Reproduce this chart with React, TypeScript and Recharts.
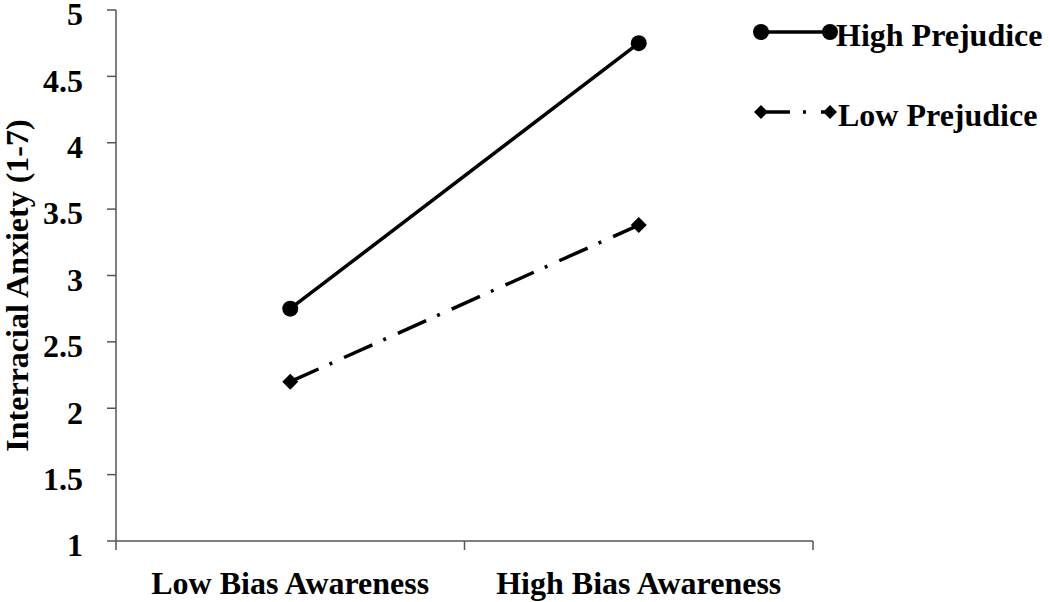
import React from "react"
import { LineChart, Line, XAxis, YAxis } from "recharts"

const categories = ["Low Bias Awareness", "High Bias Awareness"]
const highPrejudice = [2.75, 4.75]
const lowPrejudice = [2.2, 3.38]
const yTicks = [1, 1.5, 2, 2.5, 3, 3.5, 4, 4.5, 5]
const seriesNames = ["High Prejudice", "Low Prejudice"]

// categories sit in the middle of each band: index + 0.5
const data = categories.map((c, i) => ({
  pos: i + 0.5,
  cat: c,
  high: highPrejudice[i],
  low: lowPrejudice[i],
}))
const bandEdges = categories.map((_, i) => i).concat(categories.length)
const bandCenters = data.map((d) => d.pos)

const FONT = "'Liberation Serif', 'Times New Roman', serif"
const DASH = "31 12 3 13"

function Diamond(props: any) {
  const { cx, cy } = props
  if (cx == null || cy == null) return null
  const r = 8
  return (
    <polygon
      points={`${cx},${cy - r} ${cx + r},${cy} ${cx},${cy + r} ${cx - r},${cy}`}
      fill="#000"
    />
  )
}

function YLabel(props: any) {
  const { viewBox } = props
  const cx = 28
  const cy = viewBox.y + viewBox.height / 2 + 10
  return (
    <text
      x={cx}
      y={cy}
      transform={`rotate(-90, ${cx}, ${cy})`}
      textAnchor="middle"
      fontFamily={FONT}
      fontWeight="bold"
      fontSize={32}
      fill="#000"
    >
      Interracial Anxiety (1-7)
    </text>
  )
}

function LegendOverlay() {
  return (
    <svg width={1050} height={602} style={{ position: "absolute", left: 0, top: 0, pointerEvents: "none" }}>
      <g>
        <line x1={761} y1={32} x2={830} y2={32} stroke="#000" strokeWidth={3.5} />
        <circle cx={761} cy={32} r={8} fill="#000" />
        <circle cx={830} cy={32} r={8} fill="#000" />
        <text x={836} y={46} fontFamily={FONT} fontWeight="bold" fontSize={32} fill="#000">
          {seriesNames[0]}
        </text>
      </g>
      <g>
        <line x1={761} y1={112} x2={830} y2={112} stroke="#000" strokeWidth={3.5} strokeDasharray="29 13 3 15 30" />
        <polygon points="761,105 768,112 761,119 754,112" fill="#000" />
        <polygon points="830,105 837,112 830,119 823,112" fill="#000" />
        <text x={838} y={126} fontFamily={FONT} fontWeight="bold" fontSize={32} fill="#000">
          {seriesNames[1]}
        </text>
      </g>
    </svg>
  )
}

export default function App() {
  const tickStyle = { fontFamily: FONT, fontWeight: "bold", fontSize: 32, fill: "#000" }
  return (
    <div style={{ position: "absolute", left: 0, top: 0, width: 1050, height: 602, background: "#fff" }}>
      <LineChart
        width={1050}
        height={602}
        data={data}
        margin={{ top: 10, right: 237, bottom: 0, left: 0 }}
      >
        <XAxis
          dataKey="pos"
          type="number"
          domain={[0, categories.length]}
          ticks={bandEdges}
          interval={0}
          height={9}
          stroke="#555"
          strokeWidth={1.5}
          tickSize={9}
          tick={() => <g />}
        />
        <XAxis
          xAxisId="labels"
          dataKey="pos"
          type="number"
          domain={[0, categories.length]}
          ticks={bandCenters}
          interval={0}
          height={52}
          axisLine={false}
          tickLine={false}
          tickMargin={15}
          tickFormatter={(v: number) => categories[Math.floor(v)]}
          tick={tickStyle}
        />
        <YAxis
          width={116}
          domain={[1, 5]}
          ticks={yTicks}
          interval={0}
          stroke="#555"
          strokeWidth={1.5}
          tickSize={9}
          tickMargin={24}
          tick={{ ...tickStyle, dy: 4 }}
          label={<YLabel />}
        />
        <Line
          dataKey="high"
          name={seriesNames[0]}
          stroke="#000"
          strokeWidth={3.5}
          dot={{ r: 8, fill: "#000", stroke: "#000", strokeWidth: 0 }}
          isAnimationActive={false}
        />
        <Line
          dataKey="low"
          name={seriesNames[1]}
          stroke="#000"
          strokeWidth={3.5}
          strokeDasharray={DASH}
          dot={<Diamond />}
          isAnimationActive={false}
        />
      </LineChart>
      <LegendOverlay />
    </div>
  )
}
